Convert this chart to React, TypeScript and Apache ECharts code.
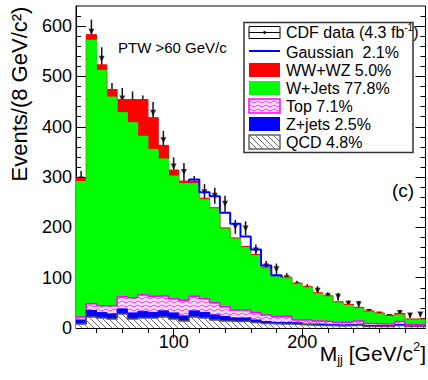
import React, { useEffect, useRef } from 'react';
import * as echarts from 'echarts';

// Bin edges (GeV/c^2), 8 GeV bins
const binEdges = [24, 32, 40, 48, 56, 64, 72, 80, 88, 96, 104, 112, 120, 128, 136, 144, 152, 160, 168, 176, 184, 192, 200, 208, 216, 224, 232, 240, 248, 256, 264, 272, 280, 288, 296];

// Stacked components (events per bin), bottom to top
const qcd = [8, 22, 20, 18, 28, 18, 20, 20, 22, 18, 14, 22, 20, 16, 14, 13, 14, 11, 9, 8, 8, 7, 6, 5, 5, 4, 5, 6, 3, 3, 3, 5, 3, 3];
const zjets = [8, 13, 11, 10, 10, 12, 13, 11, 12, 12, 10, 12, 11, 10, 9, 7, 6, 5, 4, 3, 3, 3, 2, 3, 2, 2, 2, 2, 2, 2, 1, 2, 1, 1];
const topq = [6, 13, 13, 16, 24, 30, 33, 32, 30, 28, 31, 29, 27, 24, 19, 16, 16, 15, 13, 12, 13, 6, 8, 6, 6, 5, 5, 6, 4, 3, 4, 6, 3, 3];
const wjets = [269, 524, 468, 415, 366, 348, 315, 292, 272, 244, 232, 224, 197, 187, 155, 141, 124, 113, 93, 80, 75, 71, 64, 54, 49, 39, 33, 25, 23, 20, 15, 13, 9, 9];
const wwwz = [6, 11, 11, 15, 26, 46, 73, 63, 27, 12, 5, 5, 3, 2, 2, 2, 2, 2, 2, 1, 2, 2, 2, 2, 2, 2, 2, 2, 2, 2, 2, 3, 2, 2];
const gaussian = [0, 0, 0, 0, 0, 0, 0, 0, 0, 0, 0, 3, 12, 23, 30, 28, 20, 10, 3, 1, 0, 0, 0, 0, 0, 0, 0, 0, 0, 0, 0, 0, 0, 0];

// CDF data
const dataCounts = [295, 589, 535, 465, 456, 449, 441, 428, 373, 321, 310, 285, 270, 263, 247, 201, 198, 154, 122, 117, 99, 85, 78, 74, 63, 62, 48, 47, 32, 27, 22, 30, 25, 27];
const dataErrors = [17, 24, 23, 22, 21, 21, 21, 21, 19, 18, 18, 17, 16, 16, 16, 14, 14, 12, 11, 11, 10, 9, 9, 9, 8, 8, 7, 7, 6, 5, 5, 5, 5, 5];

const xMajorTicks = [100, 200];
const xMinorTicks = [40, 60, 80, 120, 140, 160, 180, 220, 240, 260, 280];
const yMajorTicks = [0, 100, 200, 300, 400, 500, 600];
const yMinorTicks = [20, 40, 60, 80, 120, 140, 160, 180, 220, 240, 260, 280, 320, 340, 360, 380, 420, 440, 460, 480, 520, 540, 560, 580, 620];

const legendLabels = ['CDF data', 'Gaussian  2.1%', 'WW+WZ 5.0%', 'W+Jets 77.8%', 'Top 7.1%', 'Z+jets 2.5%', 'QCD 4.8%'];

const FONT = "'Liberation Sans', Arial, Helvetica, sans-serif";

function makeHatch(): HTMLCanvasElement {
  const c = document.createElement('canvas');
  c.width = 6; c.height = 6;
  const g = c.getContext('2d')!;
  g.fillStyle = '#ffffff';
  g.fillRect(0, 0, 6, 6);
  g.strokeStyle = '#6e6e6e';
  g.lineWidth = 1;
  for (const x0 of [-6, 0, 6]) {
    g.beginPath();
    g.moveTo(x0, 0);
    g.lineTo(x0 + 6, 6);
    g.stroke();
  }
  return c;
}

function makeWave(): HTMLCanvasElement {
  const c = document.createElement('canvas');
  c.width = 8; c.height = 4;
  const g = c.getContext('2d')!;
  g.fillStyle = '#ffe0ff';
  g.fillRect(0, 0, 8, 4);
  g.strokeStyle = '#ff33ff';
  g.lineWidth = 1;
  g.beginPath();
  g.moveTo(0, 2);
  g.lineTo(2, 1);
  g.lineTo(4, 2);
  g.lineTo(6, 3);
  g.lineTo(8, 2);
  g.stroke();
  return c;
}

export default function App() {
  const ref = useRef<HTMLDivElement>(null);

  useEffect(() => {
    if (!ref.current) return;
    const chart = echarts.init(ref.current, undefined, { renderer: 'svg' });

    const hatch = { image: makeHatch(), repeat: 'repeat', imageWidth: 6, imageHeight: 6 } as any;
    const wave = { image: makeWave(), repeat: 'repeat', imageWidth: 8, imageHeight: 4 } as any;

    const c1 = qcd.slice();
    const c2 = c1.map((v, i) => v + zjets[i]);
    const c3 = c2.map((v, i) => v + topq[i]);
    const c4 = c3.map((v, i) => v + wjets[i]);
    const c5 = c4.map((v, i) => v + wwwz[i]);

    const stepData = (vals: number[]) =>
      vals.map((v, i) => [binEdges[i], v]).concat([[binEdges[vals.length], vals[vals.length - 1]]]);

    // Gaussian outline (only where non-zero)
    const gIdx = gaussian.map((g, i) => (g > 0 ? i : -1)).filter((i) => i >= 0);
    const gFirst = gIdx[0];
    const gLast = gIdx[gIdx.length - 1];
    const gaussLine: number[][] = [[binEdges[gFirst], c5[gFirst - 1]]];
    for (let i = gFirst; i <= gLast; i++) gaussLine.push([binEdges[i], c5[i] + gaussian[i]]);
    gaussLine.push([binEdges[gLast + 1], c5[gLast] + gaussian[gLast]]);
    gaussLine.push([binEdges[gLast + 1], c5[gLast + 1]]);

    const centers = dataCounts.map((_, i) => (binEdges[i] + binEdges[i + 1]) / 2);

    const xBase = {
      type: 'value', min: 24, max: 296, gridIndex: 0,
      splitLine: { show: false }, axisLine: { show: false },
    };
    const yBase = {
      type: 'value', min: 0, max: 640, gridIndex: 0,
      splitLine: { show: false }, axisLine: { show: false },
    };
    const tickStyle = { color: '#000', width: 1 };

    const areaLine = (name: string, vals: number[], fill: any, stroke: string, lw: number) => ({
      name, type: 'line', step: 'end', data: stepData(vals), symbol: 'none',
      xAxisIndex: 0, yAxisIndex: 0,
      lineStyle: { color: stroke, width: lw },
      areaStyle: { color: fill, opacity: 1 },
      itemStyle: { color: stroke },
      silent: true,
    });

    const legX = 249, legW = 31, legTextX = 286;
    const rowY = [32.5, 52, 70, 88, 106, 124, 142];
    const legendGraphics: any[] = [
      { type: 'rect', shape: { x: 244, y: 22.5, width: 169, height: 130 }, style: { fill: '#fff', stroke: '#333', lineWidth: 1.5 }, z: 100 },
      // CDF data symbol
      { type: 'rect', shape: { x: legX, y: rowY[0] - 6, width: legW, height: 12 }, style: { fill: '#fff', stroke: '#000', lineWidth: 1 }, z: 101 },
      { type: 'line', shape: { x1: legX, y1: rowY[0], x2: legX + legW, y2: rowY[0] }, style: { stroke: '#000', lineWidth: 1 }, z: 101 },
      { type: 'circle', shape: { cx: legX + legW / 2, cy: rowY[0], r: 1.5 }, style: { fill: '#000' }, z: 102 },
      // Gaussian
      { type: 'line', shape: { x1: legX, y1: rowY[1] - 1, x2: legX + legW, y2: rowY[1] - 1 }, style: { stroke: '#0000ff', lineWidth: 2 }, z: 101 },
      // fills
      { type: 'rect', shape: { x: legX, y: rowY[2] - 7, width: legW, height: 14 }, style: { fill: '#ff0000' }, z: 101 },
      { type: 'rect', shape: { x: legX, y: rowY[3] - 7, width: legW, height: 14 }, style: { fill: '#00ff00' }, z: 101 },
      { type: 'rect', shape: { x: legX, y: rowY[4] - 7, width: legW, height: 14 }, style: { fill: wave, stroke: '#ff00ff', lineWidth: 1.5 }, z: 101 },
      { type: 'rect', shape: { x: legX, y: rowY[5] - 7, width: legW, height: 14 }, style: { fill: '#0000ff' }, z: 101 },
      { type: 'rect', shape: { x: legX, y: rowY[6] - 7, width: legW, height: 14 }, style: { fill: hatch, stroke: '#666', lineWidth: 1.5 }, z: 101 },
    ];
    legendLabels.forEach((lab, i) => {
      if (i === 0) {
        legendGraphics.push({
          type: 'text', x: legTextX, y: rowY[i], z: 101,
          style: {
            text: '{n|' + lab + ' (4.3 fb}{sup|-1}{n|)}',
            textVerticalAlign: 'middle', fill: '#000',
            rich: {
              n: { fontSize: 16, fontFamily: FONT, lineHeight: 20, verticalAlign: 'middle', fill: '#000' },
              sup: { fontSize: 10, fontFamily: FONT, lineHeight: 10, verticalAlign: 'top', fill: '#000' },
            },
          },
        });
      } else {
        legendGraphics.push({
          type: 'text', x: legTextX, y: rowY[i], z: 101,
          style: { text: lab, fontSize: 16, fontFamily: FONT, fill: '#000', textVerticalAlign: 'middle' },
        });
      }
    });

    const option: any = {
      animation: false,
      backgroundColor: '#fff',
      grid: { left: 76, right: 2.5, top: 6, bottom: 52, show: true, borderColor: '#000', borderWidth: 1, backgroundColor: 'transparent' },
      xAxis: [
        {
          ...xBase, position: 'bottom',
          axisLine: { show: true, lineStyle: { color: '#000', width: 1 } },
          axisTick: { show: true, inside: true, length: 10, customValues: xMajorTicks, lineStyle: tickStyle },
          axisLabel: { show: true, customValues: xMajorTicks, fontSize: 18, fontFamily: FONT, color: '#000', margin: 5 },
        },
        {
          ...xBase, position: 'bottom',
          axisTick: { show: true, inside: true, length: 5, customValues: xMinorTicks, lineStyle: tickStyle },
          axisLabel: { show: false },
        },
        {
          ...xBase, position: 'top',
          axisTick: { show: true, inside: true, length: 10, customValues: xMajorTicks, lineStyle: tickStyle },
          axisLabel: { show: false },
        },
        {
          ...xBase, position: 'top',
          axisTick: { show: true, inside: true, length: 5, customValues: xMinorTicks, lineStyle: tickStyle },
          axisLabel: { show: false },
        },
      ],
      yAxis: [
        {
          ...yBase, position: 'left',
          axisLine: { show: true, lineStyle: { color: '#000', width: 1 } },
          axisTick: { show: true, inside: true, length: 10, customValues: yMajorTicks, lineStyle: tickStyle },
          axisLabel: { show: true, customValues: yMajorTicks, fontSize: 18, fontFamily: FONT, color: '#000', margin: 4 },
        },
        {
          ...yBase, position: 'left',
          axisTick: { show: true, inside: true, length: 5, customValues: yMinorTicks, lineStyle: tickStyle },
          axisLabel: { show: false },
        },
        {
          ...yBase, position: 'right',
          axisTick: { show: true, inside: true, length: 10, customValues: yMajorTicks, lineStyle: tickStyle },
          axisLabel: { show: false },
        },
        {
          ...yBase, position: 'right',
          axisTick: { show: true, inside: true, length: 5, customValues: yMinorTicks, lineStyle: tickStyle },
          axisLabel: { show: false },
        },
      ],
      series: [
        areaLine('WW+WZ', c5, '#ff0000', '#ff0000', 1),
        areaLine('W+Jets', c4, '#00ff00', '#00ff00', 1),
        areaLine('Top', c3, wave, '#ff00ff', 1.5),
        areaLine('Z+jets', c2, '#0000ff', '#0000ff', 1),
        areaLine('QCD', c1, hatch, '#555555', 1.5),
        {
          name: 'Gaussian', type: 'line', step: 'end', data: gaussLine, symbol: 'none',
          xAxisIndex: 0, yAxisIndex: 0,
          lineStyle: { color: '#0000ff', width: 2 }, silent: true,
        },
        {
          name: 'CDF data errors', type: 'custom', xAxisIndex: 0, yAxisIndex: 0,
          data: dataCounts.map((v, i) => [centers[i], v, dataErrors[i]]),
          encode: { x: 0, y: 1 },
          renderItem: (_p: any, api: any) => {
            const x = api.value(0), v = api.value(1), e = api.value(2);
            const a = api.coord([x, v - e]);
            const b = api.coord([x, v + e]);
            return { type: 'line', shape: { x1: a[0], y1: a[1], x2: b[0], y2: b[1] }, style: { stroke: '#111', lineWidth: 1.5 } };
          },
          silent: true,
        },
        {
          name: 'CDF data', type: 'scatter', xAxisIndex: 0, yAxisIndex: 0,
          data: dataCounts.map((v, i) => [centers[i], v]),
          symbol: 'triangle', symbolRotate: 180, symbolSize: 6,
          itemStyle: { color: '#000' }, silent: true,
        },
      ],
      graphic: [
        {
          type: 'text', x: 19, y: 94, rotation: Math.PI / 2,
          style: { text: 'Events/(8 GeV/c²)', fontSize: 22, fontFamily: FONT, fill: '#000', textAlign: 'center', textVerticalAlign: 'middle' },
        },
        {
          type: 'text', x: 118, y: 47,
          style: { text: 'PTW >60 GeV/c', fontSize: 15, fontFamily: FONT, fill: '#000', textVerticalAlign: 'middle' },
        },
        {
          type: 'text', x: 392, y: 190,
          style: { text: '(c)', fontSize: 19, fontFamily: FONT, fill: '#000', textVerticalAlign: 'middle' },
        },
        {
          type: 'text', x: 426, y: 353,
          style: {
            text: '{n|M}{sub|jj}{n| [GeV/c}{sup|2}{n|]}',
            textAlign: 'right', textVerticalAlign: 'middle',
            rich: {
              n: { fontSize: 21, fontFamily: FONT, lineHeight: 26, verticalAlign: 'middle', fill: '#000' },
              sub: { fontSize: 13, fontFamily: FONT, lineHeight: 13, verticalAlign: 'bottom', fill: '#000' },
              sup: { fontSize: 13, fontFamily: FONT, lineHeight: 13, verticalAlign: 'top', fill: '#000' },
            },
          },
        },
        ...legendGraphics,
      ],
    };

    chart.setOption(option);
    return () => chart.dispose();
  }, []);

  return <div ref={ref} style={{ position: 'fixed', left: 0, top: 0, width: 428, height: 380 }} />;
}
